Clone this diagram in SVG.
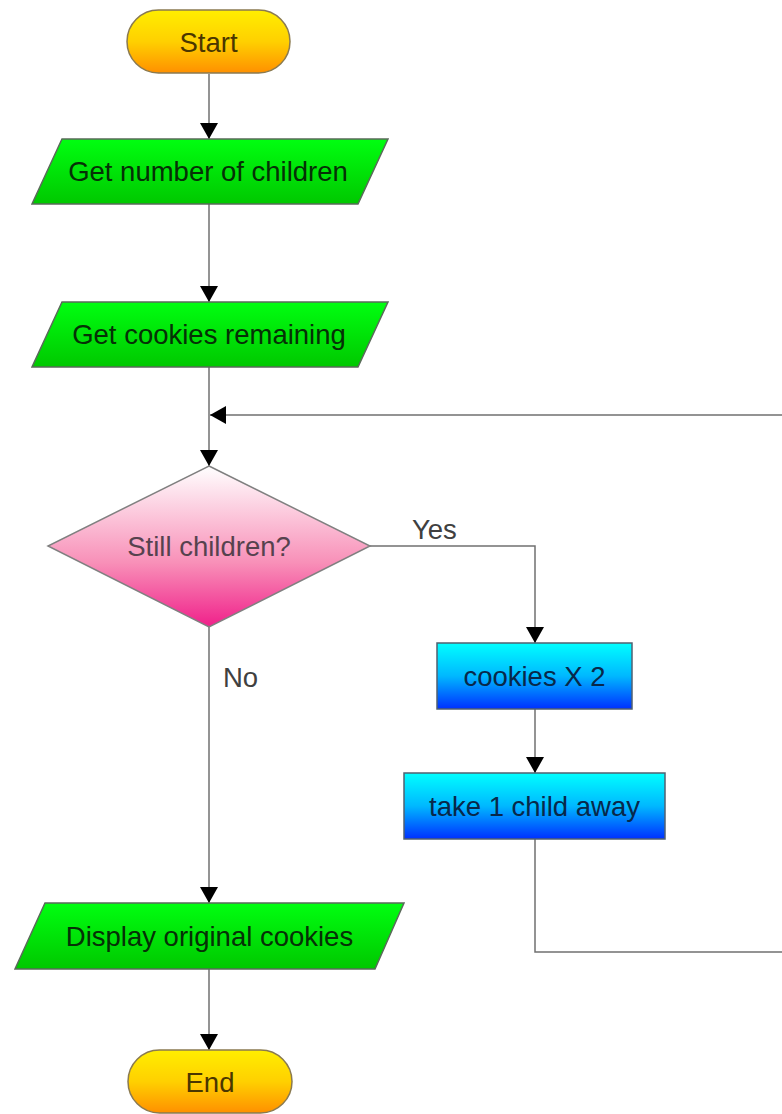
<svg xmlns="http://www.w3.org/2000/svg" width="782" height="1114" viewBox="0 0 782 1114">
<style>
text{font-family:"Liberation Sans",Arial,sans-serif;font-size:27.5px;text-anchor:middle;dominant-baseline:central}
.term{fill:url(#gY);stroke:#8a7a50;stroke-width:1.5}
.io{fill:url(#gG);stroke:#5a6a5a;stroke-width:1.5}
.proc{fill:url(#gB);stroke:#506070;stroke-width:1.5}
.dec{fill:url(#gP);stroke:#808080;stroke-width:1.5}
.tTerm{fill:#4a3600}
.tIo{fill:#063006}
.tProc{fill:#08284a}
.tDec{fill:#56424e}
.lbl{fill:#404040;text-anchor:start}
.conn path{fill:none;stroke:#707070;stroke-width:1.5}
</style>
<defs>
<linearGradient id="gY" x1="0" y1="0" x2="0" y2="1"><stop offset="0" stop-color="#ffee00"/><stop offset="0.5" stop-color="#ffd000"/><stop offset="1" stop-color="#ff9000"/></linearGradient>
<linearGradient id="gG" x1="0" y1="0" x2="0" y2="1"><stop offset="0" stop-color="#00ff10"/><stop offset="1" stop-color="#00c800"/></linearGradient>
<linearGradient id="gB" x1="0" y1="0" x2="0" y2="1"><stop offset="0" stop-color="#00ffff"/><stop offset="0.5" stop-color="#00b8ff"/><stop offset="1" stop-color="#0030ff"/></linearGradient>
<linearGradient id="gP" x1="0" y1="0" x2="0" y2="1"><stop offset="0" stop-color="#ffffff"/><stop offset="0.6" stop-color="#f890b8"/><stop offset="1" stop-color="#f0208a"/></linearGradient>
<marker id="arrL" viewBox="0 0 16 18" refX="16" refY="9" markerWidth="16" markerHeight="18" markerUnits="userSpaceOnUse" orient="auto"><path d="M0,0 L16,9 L0,18 z" fill="#000"/></marker>
</defs>
<g class="conn" id="connectors">
<path d="M209,74 V139" marker-end="url(#arrL)"/>
<path d="M209,204 V302" marker-end="url(#arrL)"/>
<path d="M209,367 V466" marker-end="url(#arrL)"/>
<path d="M370,546 H535 V643" marker-end="url(#arrL)"/>
<path d="M535,709 V773" marker-end="url(#arrL)"/>
<path d="M535,839 V952 H800 V415 H210" marker-end="url(#arrL)"/>
<path d="M209,627 V903" marker-end="url(#arrL)"/>
<path d="M209,969 V1050" marker-end="url(#arrL)"/>
<text class="lbl" x="412" y="529">Yes</text>
<text class="lbl" x="223" y="677">No</text>
</g>
<g id="start"><rect class="term" x="127" y="10" width="163" height="63" rx="31.5"/><text class="tTerm" x="208.5" y="42">Start</text></g>
<g id="getChildren"><polygon class="io" points="62,139 388,139 358,204 32,204"/><text class="tIo" x="208" y="171">Get number of children</text></g>
<g id="getCookies"><polygon class="io" points="62,302 388,302 358,367 32,367"/><text class="tIo" x="209" y="334">Get cookies remaining</text></g>
<g id="decision"><polygon class="dec" points="209,466 370,546 209,627 48,546"/><text class="tDec" x="209" y="546">Still children?</text></g>
<g id="double"><rect class="proc" x="437" y="643" width="195" height="66"/><text class="tProc" x="534.5" y="676">cookies X 2</text></g>
<g id="takeChild"><rect class="proc" x="404" y="773" width="261" height="66"/><text class="tProc" x="534.5" y="806">take 1 child away</text></g>
<g id="display"><polygon class="io" points="45,903 404,903 375,969 15,969"/><text class="tIo" x="209.5" y="936">Display original cookies</text></g>
<g id="end"><rect class="term" x="128" y="1050" width="164" height="63" rx="31.5"/><text class="tTerm" x="210" y="1082">End</text></g>
</svg>
